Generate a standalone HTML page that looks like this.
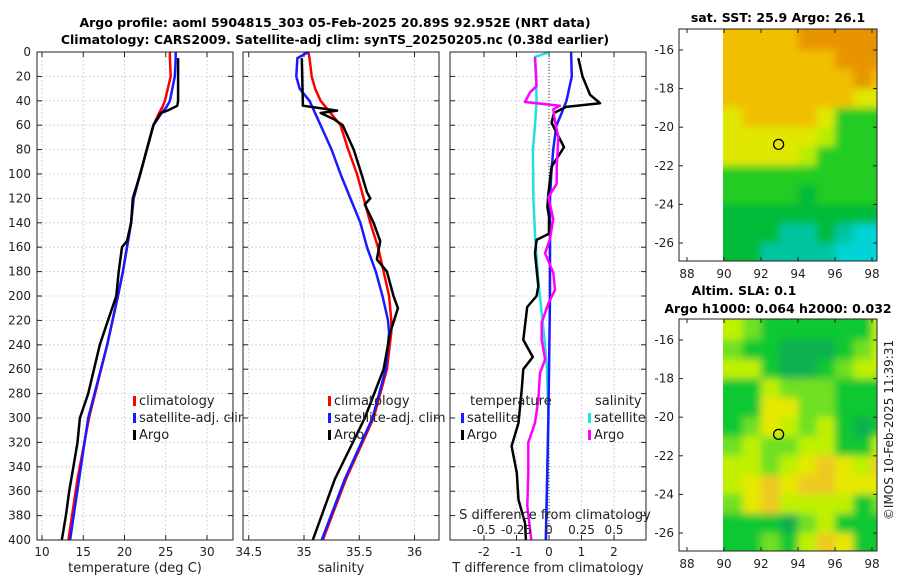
<!DOCTYPE html>
<html><head><meta charset="utf-8"><style>
body{margin:0;background:#fff;width:900px;height:580px;overflow:hidden}
svg{font-family:"DejaVu Sans","Liberation Sans",sans-serif}
</style></head><body>
<svg id="s" width="900" height="580" xmlns="http://www.w3.org/2000/svg">
<defs>
<filter id="bl" x="-5%" y="-5%" width="110%" height="110%"><feGaussianBlur stdDeviation="4"/></filter>
<clipPath id="c1"><rect x="723" y="29" width="154" height="232"/></clipPath>
<clipPath id="c2"><rect x="723" y="319" width="154" height="232"/></clipPath>
</defs>
<text x="335" y="27" text-anchor="middle" font-size="12.5" font-weight="bold">Argo profile: aoml 5904815_303 05-Feb-2025 20.89S 92.952E (NRT data)</text>
<text x="335" y="44" text-anchor="middle" font-size="12.5" font-weight="bold">Climatology: CARS2009. Satellite-adj clim: synTS_20250205.nc (0.38d earlier)</text>
<text x="778" y="22" text-anchor="middle" font-size="12.5" font-weight="bold">sat. SST: 25.9 Argo: 26.1</text>
<text x="744" y="295" text-anchor="middle" font-size="12.5" font-weight="bold">Altim. SLA: 0.1</text>
<text x="778" y="313" text-anchor="middle" font-size="12.5" font-weight="bold">Argo h1000: 0.064 h2000: 0.032</text>
<text transform="translate(893,430) rotate(-90)" text-anchor="middle" font-size="12" fill="#222">©IMOS 10-Feb-2025 11:39:31</text>
</svg>
<script>
// ---- data ----
const depthT=[0,5,20,40,45,50,60,80,100,120,140,160,180,200,240,300,350,400];
const tClim=[25.5,25.5,25.6,24.9,24.6,24.2,23.5,22.7,21.9,21.1,20.8,20.3,19.8,19.2,17.9,15.7,14.3,13.2];
const tSat=[26.2,26.2,26.1,25.5,25.1,24.5,23.5,22.7,21.9,21.1,20.8,20.3,19.8,19.2,17.9,15.6,14.5,13.4];
const argoDepth=[5,20,40,44,48,50,60,80,100,120,140,155,160,180,200,220,240,260,280,300,320,340,360,380,400];
const tArgo=[26.5,26.5,26.5,26.4,25.2,24.4,23.5,22.7,21.9,21.0,20.8,20.3,19.7,19.3,19.0,18.0,17.0,16.3,15.6,14.6,14.3,13.8,13.3,12.9,12.4];
const depthS=[0,5,20,30,40,60,80,100,120,140,160,180,200,220,230,260,300,350,400];
const sClim=[35.04,35.05,35.07,35.1,35.15,35.33,35.4,35.48,35.54,35.6,35.67,35.72,35.77,35.79,35.79,35.75,35.63,35.38,35.17];
const sSat=[35.04,34.94,34.93,34.96,35.05,35.15,35.25,35.33,35.42,35.51,35.57,35.65,35.71,35.76,35.77,35.74,35.62,35.37,35.16];
const sArgoDepth=[5,44,48,50,55,60,80,100,115,120,125,140,155,170,180,200,210,230,260,300,350,400];
const sArgo=[34.98,34.99,35.3,35.15,35.27,35.35,35.45,35.52,35.57,35.6,35.55,35.63,35.69,35.66,35.75,35.81,35.85,35.78,35.72,35.55,35.28,35.08];
const dTsatDepth=[0,20,40,50,60,80,100,120,200,300,400];
const dTsat=[0.68,0.7,0.54,0.39,0.23,0.13,0.07,0.03,0.03,-0.02,-0.1];
const dTargoDepth=[5,20,35,42,45,50,58,78,94,116,127,135,149,154,165,192,200,209,236,250,260,277,304,323,345,367,386,400];
const dTargo=[0.9,1.03,1.26,1.57,0.53,0.15,0.08,0.46,0.08,-0.02,-0.05,0,0,-0.38,-0.43,-0.33,-0.38,-0.67,-0.79,-0.5,-0.79,-0.84,-0.94,-1.15,-0.99,-0.94,-0.74,-0.71];
const dSsatDepth=[0,4,20,40,60,80,120,150,190,230,260,300,400];
const dSsat=[0.005,-0.108,-0.1,-0.095,-0.108,-0.124,-0.12,-0.108,-0.08,-0.04,-0.015,-0.005,-0.023];
const dSargoDepth=[4,28,33,41,44,47,57,70,94,108,119,137,153,165,181,195,206,222,236,252,263,285,304,320,345,372,400];
const dSargo=[-0.108,-0.095,-0.146,-0.185,0.084,0.033,0.046,0.072,0.059,0.059,-0.005,0.033,0.008,-0.03,0.033,0.046,-0.005,-0.056,-0.056,-0.03,-0.069,-0.082,-0.108,-0.159,-0.159,-0.167,-0.136];
const depthTicks=[0,20,40,60,80,100,120,140,160,180,200,220,240,260,280,300,320,340,360,380,400];
const tTicks=[10,15,20,25,30];
const sTicks=[34.5,35,35.5,36];
const dTTicks=[-2,-1,0,1,2];
const dSTickVals=[-0.5,-0.25,0,0.25,0.5];
const dSTickLabels=['-0.5','-0.25','0','0.25','0.5'];
const sstRows=['ooooOOOOO','ooooooOOO','oooooooOo','oooooooyy','yooooyggg','yyyyyYggg','yyyyYgggg','ggggggggg','ggggGgggg','GGGGGGGGG','GGGttGtcc','GGttttccc'];
const slaRows=['YgGGGGGGY','gGGDDDGgY','YYGDDGgYY','GGYgggGGG','GGyyggGGG','GgyYgYGDG','gYggYYGGY','YYgYyoyYo','Yyoyooyyy','gyoYYYYGg','GGGDgYGGG','GGgGYoyGG'];
const sstCol={O:'#e89400',o:'#f0c000',y:'#e0e800',Y:'#b8ee00',g:'#20cc20',G:'#00bb38',t:'#00c4a0',c:'#00d4d4'};
const slaCol={G:'#10c830',g:'#70e020',Y:'#c0f000',y:'#e6e800',o:'#f0c820',D:'#10b050'};
// ---- drawing ----
const NS='http://www.w3.org/2000/svg';const S=document.getElementById('s');
function el(t,a,p){const e=document.createElementNS(NS,t);for(const k in a)e.setAttribute(k,a[k]);(p||S).appendChild(e);return e;}
const Y0=52,Y1=540;const yD=d=>Y0+(d/400)*(Y1-Y0);
function panel(x0,x1,xs,ticks,labels,name){
 const g=el('g',{});
 el('rect',{x:x0,y:Y0,width:x1-x0,height:Y1-Y0,fill:'#fff'},g);
 ticks.forEach((v,i)=>{const x=xs(v);
  const gl=el('line',{x1:x,x2:x,y1:Y0,y2:Y1,stroke:'#c8cce8','stroke-dasharray':'2,2','stroke-width':0.8},g);
  
  el('line',{x1:x,x2:x,y1:Y1,y2:Y1-5,stroke:'#222'},g);el('line',{x1:x,x2:x,y1:Y0,y2:Y0+5,stroke:'#222'},g);
  if(labels){const t=el('text',{x:x,y:556,'text-anchor':'middle','font-size':12,fill:'#222'},g);t.textContent=labels[i];
  }});
 depthTicks.forEach(d=>{const y=yD(d);
  if(d>0&&d<400){const gl=el('line',{x1:x0,x2:x1,y1:y,y2:y,stroke:'#c8cce8','stroke-dasharray':'2,2','stroke-width':0.8},g);
  }
  el('line',{x1:x0,x2:x0+5,y1:y,y2:y,stroke:'#222'},g);el('line',{x1:x1,x2:x1-5,y1:y,y2:y,stroke:'#222'},g);});
 return g;}
function line(g,xs,vals,deps,col,w,name){
 const pts=vals.map((v,i)=>xs(v).toFixed(1)+','+yD(deps[i]).toFixed(1)).join(' ');
 const p=el('polyline',{points:pts,fill:'none',stroke:col,'stroke-width':w,'stroke-linejoin':'round'},g);
 }
function frame(g,x0,x1){el('rect',{x:x0,y:Y0,width:x1-x0,height:Y1-Y0,fill:'none',stroke:'#222','stroke-width':1},g);}
function legend(g,x,y,items){items.forEach((it,i)=>{const yy=y+i*17;
 const m=el('rect',{x:x,y:yy-9,width:3,height:10,fill:it[1]},g);
 const t=el('text',{x:x+6,y:yy,'font-size':13,fill:'#222'},g);t.textContent=it[0];});}
const xT=v=>42+(v-10)*8.25;
const p1=panel(37,233,xT,tTicks,tTicks.map(String),'temperature-panel');
line(p1,xT,tClim,depthT,'#f00',2.5,'temp-climatology-line');
line(p1,xT,tSat,depthT,'#1a1aff',2.5,'temp-satellite-line');
line(p1,xT,tArgo,argoDepth,'#000',2.5,'temp-argo-line');
legend(p1,133,405,[['climatology','#f00'],['satellite-adj. clim','#1a1aff'],['Argo','#000']]);
frame(p1,37,233);
depthTicks.forEach(d=>{const t=el('text',{x:31,y:yD(d)+4,'text-anchor':'end','font-size':12,fill:'#222'});t.textContent=d;
 });
const xS=v=>304+(v-35)*110.5;
const p2=panel(243,439,xS,sTicks,sTicks.map(String),'salinity-panel');
line(p2,xS,sClim,depthS,'#f00',2.5,'sal-climatology-line');
line(p2,xS,sSat,depthS,'#1a1aff',2.5,'sal-satellite-line');
line(p2,xS,sArgo,sArgoDepth,'#000',2.5,'sal-argo-line');
legend(p2,328,405,[['climatology','#f00'],['satellite-adj. clim','#1a1aff'],['Argo','#000']]);
const xDT=v=>549+v*32.5, xDS=v=>549+v*130;
const p3=panel(450,646,xDT,dTTicks,dTTicks.map(String),'difference-panel');
el('line',{x1:549,x2:549,y1:Y0,y2:Y1,stroke:'#333','stroke-dasharray':'1,2'},p3);
line(p3,xDS,dSsat,dSsatDepth,'#20e0e0',2.5,'sal-diff-satellite-line');
line(p3,xDT,dTsat,dTsatDepth,'#1a1aff',2.5,'temp-diff-satellite-line');
line(p3,xDT,dTargo,dTargoDepth,'#000',2.5,'temp-diff-argo-line');
line(p3,xDS,dSargo,dSargoDepth,'#f0f',2.5,'sal-diff-argo-line');
frame(p2,243,439);frame(p3,450,646);
let t=el('text',{x:470,y:405,'font-size':13,fill:'#222'},p3);t.textContent='temperature';
t=el('text',{x:595,y:405,'font-size':13,fill:'#222'},p3);t.textContent='salinity';
legend(p3,461,422,[['satellite','#1a1aff'],['Argo','#000']]);
legend(p3,588,422,[['satellite','#20e0e0'],['Argo','#f0f']]);
t=el('text',{x:555,y:519,'text-anchor':'middle','font-size':13,fill:'#222'},p3);t.textContent='S difference from climatology';
dSTickVals.forEach((v,i)=>{const tt=el('text',{x:xDS(v),y:534,'text-anchor':'middle','font-size':12,fill:'#222'},p3);tt.textContent=dSTickLabels[i];
 });
[['temperature (deg C)',135],['salinity',341],['T difference from climatology',548]].forEach(a=>{const tt=el('text',{x:a[1],y:572,'text-anchor':'middle','font-size':13,fill:'#222'});tt.textContent=a[0];
 });
function map(top,bot,lat16y,lat26y,rows,cols,name,clip){
 const g=el('g',{});
 const py=(lat16y-lat26y)/(-16+26);const yL=l=>lat16y+(l+16)*py; const xL=l=>687+(l-88)*18.5;
 const cg=el('g',{'clip-path':'url(#'+clip+')'},g);const fg=el('g',{filter:'url(#bl)'},cg);
 rows.forEach((r,ri)=>{for(let ci=0;ci<r.length;ci++){const lon=90+ci,lat=-15-ri;
  const x0=xL(lon)-(ci==0?0:0),x1=ci==r.length-1?xL(lon+1)+8:xL(lon+1),y0=ri==0?yL(lat)-10:yL(lat),y1=ri==rows.length-1?yL(lat-1)+10:yL(lat-1);
  const xx0=ci==0?x0-8:x0;
  const c=el('rect',{x:xx0,y:y0,width:x1-xx0+0.5,height:y1-y0+0.5,fill:cols[r[ci]]},fg);}});
 el('rect',{x:679,y:top,width:198,height:bot-top,fill:'none',stroke:'#222'},g);
 [88,90,92,94,96,98].forEach(l=>{const x=xL(l);el('line',{x1:x,x2:x,y1:bot,y2:bot-4,stroke:'#222'},g);el('line',{x1:x,x2:x,y1:top,y2:top+4,stroke:'#222'},g);
  const tt=el('text',{x:x,y:bot+17,'text-anchor':'middle','font-size':12,fill:'#222'},g);tt.textContent=l;});
 [-16,-18,-20,-22,-24,-26].forEach(l=>{const y=yL(l);el('line',{x1:679,x2:683,y1:y,y2:y,stroke:'#222'},g);el('line',{x1:877,x2:873,y1:y,y2:y,stroke:'#222'},g);
  const tt=el('text',{x:674,y:y+4,'text-anchor':'end','font-size':12,fill:'#222'},g);tt.textContent=l;});
 const c=el('circle',{cx:xL(92.952),cy:yL(-20.89),r:5,fill:'none',stroke:'#000','stroke-width':1.3},g);
}
map(29,261,50,243,sstRows,sstCol,'sst-map','c1');
map(319,551,340,533,slaRows,slaCol,'sla-map','c2');
</script>
</body></html>
